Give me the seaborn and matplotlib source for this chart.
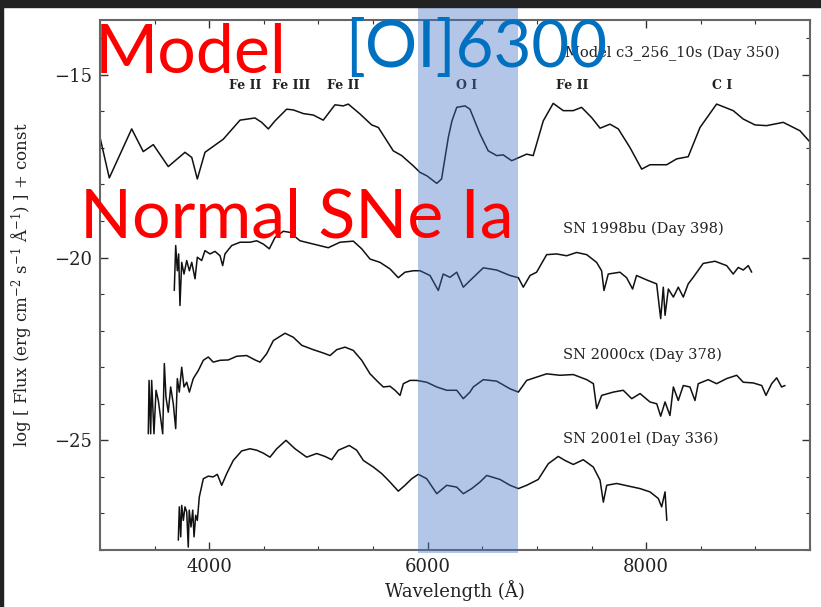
import numpy as np
import pandas as pd
import seaborn as sns
import matplotlib.pyplot as plt
from matplotlib.patches import Rectangle
from matplotlib.ticker import MultipleLocator

# spectra (wavelength in A, log flux + const)
model_wave = [3000, 3085, 3290, 3396, 3488, 3625, 3778, 3840, 3891, 3961, 4129, 4282, 4419, 4480,
              4541, 4602, 4709, 4770, 4861, 4953, 5044, 5151, 5227, 5273, 5380, 5487, 5548, 5685,
              5762, 5868, 5930, 5991, 6083, 6127, 6189, 6222, 6266, 6342, 6387, 6479, 6554, 6632,
              6691, 6769, 6906, 6966, 7058, 7149, 7241, 7332, 7409, 7501, 7578, 7669, 7745, 7852,
              7959, 8035, 8188, 8279, 8385, 8493, 8645, 8797, 8889, 8996, 9103, 9255, 9408, 9515]
model_flux = [-16.71, -17.82, -16.48, -17.10, -16.91, -17.51, -17.12, -17.26, -17.85, -17.12, -16.76,
              -16.24, -16.18, -16.30, -16.48, -16.26, -15.94, -15.96, -16.06, -16.10, -16.24, -15.82,
              -15.85, -15.80, -16.07, -16.37, -16.44, -17.08, -17.21, -17.49, -17.67, -17.76, -17.97,
              -17.85, -16.71, -16.26, -15.89, -15.85, -15.94, -16.62, -17.08, -17.21, -17.19, -17.35,
              -17.17, -17.21, -16.26, -15.78, -15.98, -15.98, -15.89, -16.17, -16.46, -16.35, -16.48,
              -16.99, -17.58, -17.46, -17.46, -17.30, -17.24, -16.44, -15.80, -15.98, -16.21, -16.37,
              -16.39, -16.30, -16.53, -16.89]

bu_wave = [3680, 3693, 3708, 3720, 3732, 3748, 3769, 3794, 3818, 3840, 3870, 3891, 3931, 3961, 4007,
           4053, 4099, 4123, 4144, 4206, 4282, 4373, 4435, 4495, 4550, 4602, 4678, 4739, 4831, 4953,
           5090, 5197, 5319, 5396, 5472, 5563, 5655, 5731, 5792, 5868, 5930, 6021, 6097, 6142, 6204,
           6266, 6326, 6387, 6509, 6631, 6754, 6830, 6875, 6937, 6997, 7089, 7180, 7272, 7363, 7456,
           7546, 7592, 7614, 7653, 7760, 7821, 7876, 7912, 8004, 8096, 8133, 8157, 8173, 8203, 8249,
           8294, 8340, 8385, 8431, 8522, 8630, 8737, 8797, 8843, 8889, 8935, 8966]
bu_flux = [-20.90, -19.67, -20.36, -19.90, -21.31, -20.13, -20.45, -20.08, -20.36, -20.13, -20.58,
           -19.99, -20.08, -19.81, -19.90, -19.83, -19.95, -20.22, -19.90, -19.67, -19.58, -19.58,
           -19.54, -19.63, -19.76, -19.45, -19.28, -19.31, -19.54, -19.63, -19.73, -19.58, -19.55,
           -19.76, -20.04, -20.13, -20.31, -20.55, -20.40, -20.36, -20.36, -20.49, -20.90, -20.45,
           -20.54, -20.40, -20.81, -20.63, -20.28, -20.34, -20.49, -20.55, -20.81, -20.49, -20.40,
           -19.92, -19.90, -19.95, -19.86, -19.92, -20.13, -20.36, -20.90, -20.45, -20.40, -20.55,
           -20.86, -20.49, -20.61, -20.72, -21.67, -20.81, -21.58, -20.86, -21.08, -20.81, -21.08,
           -20.72, -20.54, -20.16, -20.10, -20.22, -20.45, -20.27, -20.34, -20.22, -20.40]

cx_wave = [3442, 3449, 3464, 3473, 3494, 3513, 3534, 3574, 3589, 3604, 3625, 3647, 3671, 3693, 3708,
           3726, 3748, 3769, 3794, 3818, 3854, 3900, 3946, 3991, 4037, 4099, 4175, 4251, 4343, 4419,
           4465, 4526, 4587, 4694, 4770, 4847, 4953, 5044, 5106, 5167, 5243, 5319, 5396, 5472, 5548,
           5594, 5655, 5701, 5747, 5777, 5838, 5899, 5991, 6083, 6174, 6266, 6326, 6387, 6417, 6509,
           6631, 6754, 6830, 6906, 7089, 7211, 7333, 7456, 7517, 7547, 7593, 7699, 7790, 7868, 7944,
           8035, 8097, 8133, 8173, 8218, 8249, 8294, 8340, 8401, 8447, 8477, 8568, 8645, 8737, 8829,
           8889, 8981, 9058, 9097, 9149, 9195, 9240, 9271]
cx_flux = [-24.82, -23.36, -24.82, -23.36, -24.82, -23.63, -23.91, -24.82, -22.90, -23.82, -24.23,
           -23.54, -24.00, -24.68, -23.31, -23.68, -23.00, -23.54, -23.41, -23.68, -23.31, -23.09,
           -22.81, -22.72, -22.86, -22.81, -22.80, -22.70, -22.68, -22.80, -22.86, -22.63, -22.27,
           -22.07, -22.18, -22.40, -22.52, -22.61, -22.68, -22.52, -22.45, -22.54, -22.81, -23.18,
           -23.41, -23.54, -23.52, -23.63, -23.77, -23.45, -23.36, -23.36, -23.41, -23.54, -23.63,
           -23.63, -23.86, -23.68, -23.54, -23.34, -23.38, -23.59, -23.68, -23.36, -23.18, -23.22,
           -23.20, -23.34, -23.45, -24.13, -23.77, -23.68, -23.63, -23.86, -23.72, -23.95, -24.00,
           -24.34, -23.95, -24.32, -23.54, -23.91, -23.50, -23.54, -23.91, -23.45, -23.34, -23.45,
           -23.31, -23.22, -23.41, -23.43, -23.50, -23.77, -23.45, -23.29, -23.54, -23.50]

el_wave = [3717, 3726, 3739, 3748, 3763, 3778, 3794, 3808, 3817, 3833, 3849, 3861, 3876, 3891, 3909,
           3946, 3991, 4036, 4074, 4114, 4160, 4220, 4297, 4373, 4435, 4495, 4556, 4618, 4703, 4785,
           4892, 4984, 5060, 5121, 5182, 5282, 5350, 5411, 5502, 5579, 5639, 5731, 5792, 5854, 5914,
           5991, 6083, 6174, 6266, 6326, 6403, 6479, 6540, 6662, 6754, 6830, 6906, 7012, 7104, 7195,
           7257, 7333, 7424, 7516, 7578, 7608, 7639, 7730, 7852, 7944, 8035, 8111, 8142, 8173, 8189]
el_flux = [-27.73, -26.82, -27.64, -26.78, -27.19, -26.82, -26.96, -27.92, -26.91, -27.37, -26.91,
           -27.64, -27.05, -27.19, -26.55, -26.05, -25.98, -26.00, -25.93, -26.23, -25.91, -25.55,
           -25.29, -25.23, -25.27, -25.35, -25.46, -25.23, -25.00, -25.23, -25.46, -25.36, -25.44,
           -25.53, -25.27, -25.14, -25.27, -25.55, -25.73, -25.91, -26.09, -26.39, -26.23, -26.05,
           -25.93, -26.05, -26.46, -26.23, -26.28, -26.46, -26.32, -26.14, -25.96, -26.07, -26.23,
           -26.32, -26.23, -26.07, -25.64, -25.44, -25.55, -25.66, -25.53, -25.73, -26.09, -26.69,
           -26.23, -26.18, -26.26, -26.32, -26.41, -26.59, -26.82, -26.41, -27.19]

spec_names = ["model", "1998bu", "2000cx", "2001el"]
spec_labels = ["Model c3_256_10s (Day 350)", "SN 1998bu (Day 398)",
               "SN 2000cx (Day 378)", "SN 2001el (Day 336)"]
label_pos = [(7257, -14.40), (7240, -19.21), (7240, -22.65), (7240, -24.97)]

line_ids = ["Fe II", "Fe III", "Fe II", "O I", "Fe II", "C I"]
line_wave = [4327, 4749, 5225, 6360, 7321, 8694]

band = (5910, 6830)  # [OI] 6300 region

frames = []
for name, w, f in zip(spec_names, [model_wave, bu_wave, cx_wave, el_wave],
                      [model_flux, bu_flux, cx_flux, el_flux]):
    frames.append(pd.DataFrame({"wave": w, "flux": f, "spectrum": name}))
df = pd.concat(frames, ignore_index=True)

sns.set_theme(style="ticks")
plt.rcParams["font.family"] = ["DejaVu Serif"]
plt.rcParams["mathtext.fontset"] = "dejavuserif"

fig = plt.figure(figsize=(8.21, 6.07), dpi=100)
ax = fig.add_axes([100 / 821, 57 / 607, 710 / 821, 530 / 607])

sns.lineplot(data=df, x="wave", y="flux", units="spectrum", estimator=None, sort=False,
             color="#111111", lw=1.1, ax=ax)

ax.set_xlim(3000, 9500)
ax.set_ylim(-28, -13.5)
ax.xaxis.set_major_locator(MultipleLocator(2000))
ax.xaxis.set_minor_locator(MultipleLocator(500))
ax.yaxis.set_major_locator(MultipleLocator(5))
ax.yaxis.set_minor_locator(MultipleLocator(1))
ax.tick_params(which="both", direction="in", top=True, right=True, colors="#333333",
               labelcolor="#222222", labelsize=13)
ax.tick_params(which="major", length=6, width=1.0, pad=6)
ax.tick_params(which="minor", length=3, width=0.8)
for s in ax.spines.values():
    s.set_color("#666666")
    s.set_linewidth(1.5)

ax.set_xlabel("Wavelength (Å)", fontsize=13, color="#222222", labelpad=3)
ax.set_ylabel(r"log [ Flux (erg cm$^{-2}$ s$^{-1}$ Å$^{-1}$) ] + const", fontsize=12,
              color="#222222", labelpad=14)

for txt, (x, y) in zip(spec_labels, label_pos):
    ax.text(x, y, txt, fontsize=10.5, color="#222222", va="center", ha="left")
for txt, x in zip(line_ids, line_wave):
    ax.text(x, -15.3, txt, fontsize=9, color="#222222", va="center", ha="center",
            fontweight="bold")

ax.axvspan(band[0], band[1], ymin=-0.006, ymax=1.023, color="#4472C4", alpha=0.4, lw=0,
           zorder=5, clip_on=False)

# slide annotations
big = dict(family=["Lato", "DejaVu Sans"], va="baseline", ha="left")
fig.text(95 / 821, 1 - 73 / 607, "Model", color="#FF0000", fontsize=49, **big)
fig.text(345 / 821, 1 - 67 / 607, "[OI]6300", color="#0070C0", fontsize=47, **big)
fig.text(80 / 821, 1 - 237 / 607, "Normal SNe Ia", color="#FF0000", fontsize=49, **big)

# dark slide border
fig.patches.append(Rectangle((0, 1 - 7 / 607), 1, 7 / 607, transform=fig.transFigure,
                             color="#222222", zorder=10))
fig.patches.append(Rectangle((0, 0), 3 / 821, 1, transform=fig.transFigure,
                             color="#222222", zorder=10))

fig.savefig("out.png", dpi=100)
